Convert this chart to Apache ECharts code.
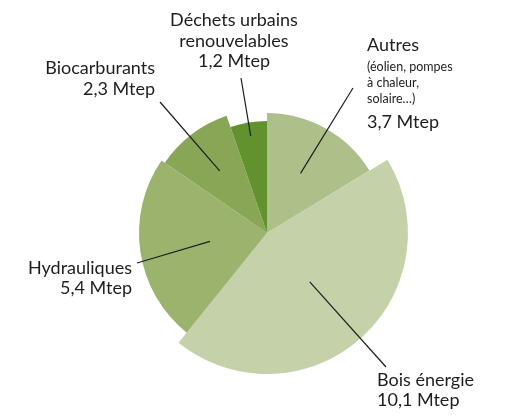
<!DOCTYPE html>
<html>
<head>
<meta charset="utf-8">
<script src="https://cdn.jsdelivr.net/npm/echarts@6/dist/echarts.min.js"></script>
<style>
  html, body { margin: 0; padding: 0; background: #fff; }
  #chart { width: 509px; height: 415px; }
</style>
</head>
<body>
<div id="chart"></div>
<script>
// data
const names = ['Autres', 'Bois énergie', 'Hydrauliques', 'Biocarburants', 'Déchets urbains renouvelables']
const values = [3.7, 10.1, 5.4, 2.3, 1.2]
const labelTexts = [
  '{a|Autres}\n{b|(éolien, pompes}\n{b|à chaleur,}\n{b|solaire…)}\n{c|3,7 Mtep}',
  'Bois énergie\n10,1 Mtep',
  'Hydrauliques\n5,4 Mtep',
  'Biocarburants\n2,3 Mtep',
  'Déchets urbains\nrenouvelables\n1,2 Mtep'
]

// look
const colors = ['#adc08a', '#c5d2a9', '#9cb36e', '#88a655', '#62922d']
const radii = [120, 141, 128, 124, 112]
const center = [267, 233]
// leader lines: start (fraction of slice radius, on the slice middle) and end point; text spot
const anchorFrac = [0.57, 0.46, 0.45, 0.63, 0.88]
const lineEnds = [[353, 88], [386, 367], [137, 263], [160, 102], [241, 78]]
const textPos = [
  { x: 367, y: 31, align: 'left' },
  { x: 377, y: 370, align: 'left' },
  { x: 132, y: 258, align: 'right' },
  { x: 155, y: 58, align: 'right' },
  { x: 234, y: 10, align: 'center' }
]
const lineHeights = [20, 20, 20, 21, 20.5]

const total = values.reduce((a, b) => a + b, 0)
const midAngles = []
let cum = 0
values.forEach(v => {
  midAngles.push((90 - (cum + v / 2) / total * 360) * Math.PI / 180)
  cum += v
})

const chart = echarts.init(document.getElementById('chart'))

const series = names.map((name, i) => ({
  type: 'pie',
  center: center,
  radius: [0, radii[i]],
  startAngle: 90,
  clockwise: true,
  silent: true,
  animation: false,
  z: i === 1 ? 1 : 2,
  label: {
    show: true,
    color: '#1e1e1e',
    fontFamily: 'Lato',
    fontSize: 18,
    lineHeight: lineHeights[i],
    overflow: 'none',
    width: 200,
    rich: {
      a: { fontFamily: 'Lato', fontSize: 18, lineHeight: 28, color: '#1e1e1e' },
      b: { fontFamily: 'Lato', fontSize: 12.5, lineHeight: 16, color: '#1e1e1e' },
      c: { fontFamily: 'Lato', fontSize: 18, lineHeight: 30, color: '#1e1e1e' }
    }
  },
  labelLine: { show: false },
  labelLayout (params) {
    if (params.dataIndex !== i) return {}
    return {
      x: textPos[i].x,
      y: textPos[i].y,
      align: textPos[i].align,
      verticalAlign: 'top'
    }
  },
  data: names.map((n, j) => ({
    name: n,
    value: values[j],
    itemStyle: { color: j === i ? colors[j] : 'rgba(0,0,0,0)' },
    label: j === i ? { formatter: labelTexts[j] } : { show: false }
  }))
}))

const leaders = names.map((n, i) => {
  const a = midAngles[i]
  const r = radii[i] * anchorFrac[i]
  return {
    type: 'line',
    z: 100,
    silent: true,
    shape: {
      x1: center[0] + r * Math.cos(a),
      y1: center[1] - r * Math.sin(a),
      x2: lineEnds[i][0],
      y2: lineEnds[i][1]
    },
    style: { stroke: '#1e1e1e', lineWidth: 1.2 }
  }
})

chart.setOption({
  backgroundColor: '#ffffff',
  series: series,
  graphic: leaders
})
</script>
</body>
</html>
